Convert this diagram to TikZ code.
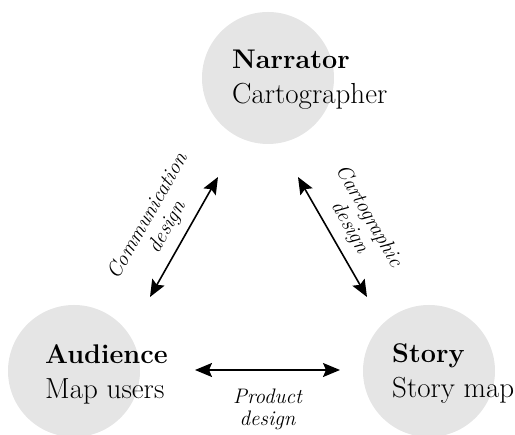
\documentclass[tikz,border=0pt]{standalone}
\usepackage{xcolor}
\usepackage{tikz}
\usetikzlibrary{arrows.meta, positioning, calc}

\definecolor{bubblegray}{HTML}{E5E5E5}
\newcommand{\rolesub}[1]{{\fontsize{29}{35}\selectfont #1}}
\tikzset{
	bubble/.style={circle, fill=bubblegray, minimum size=132pt, inner sep=0pt},
	role/.style={anchor=west, align=left, inner sep=0pt, font=\fontsize{27}{35}\selectfont},
	link/.style={{Stealth[length=17pt,width=14pt,inset=3pt]}-{Stealth[length=17pt,width=14pt,inset=3pt]}, line width=1.6pt},
	linklabel/.style={align=center, inner sep=2pt, font=\itshape\fontsize{21}{22}\selectfont}
}

\begin{document}
\begin{tikzpicture}[x=1pt,y=1pt]
			\useasboundingbox (0,0) rectangle (515,435);
			\node [bubble] (narrator) at (268,357) {};
			\node [bubble] (audience) at (74,64) {};
			\node [bubble] (story) at (429,64) {};
			\node [role] (narratortext) at (232,355.6) {\textbf{Narrator}\\\rolesub{Cartographer}};
			\node [role] (audiencetext) at (45,61) {\textbf{Audience}\\\rolesub{Map users}};
			\node [role] (storytext) at (392,61.6) {\textbf{Story}\\\rolesub{Story map}};
			\coordinate (n1) at (218,258);
			\coordinate (n2) at (298,258);
			\coordinate (a1) at (150,138);
			\coordinate (a2) at (195,65);
			\coordinate (s1) at (367,138);
			\coordinate (s2) at (340,65);
			\draw [link] (a1) to node [linklabel, sloped, above=7pt] {Communication\\design} (n1);
			\draw [link] (n2) to node [linklabel, sloped, above=7pt] {Cartographic\\design} (s1);
			\draw [link] (a2) to node [linklabel, below=16pt] {Product\\design} (s2);
		\end{tikzpicture}
\end{document}
